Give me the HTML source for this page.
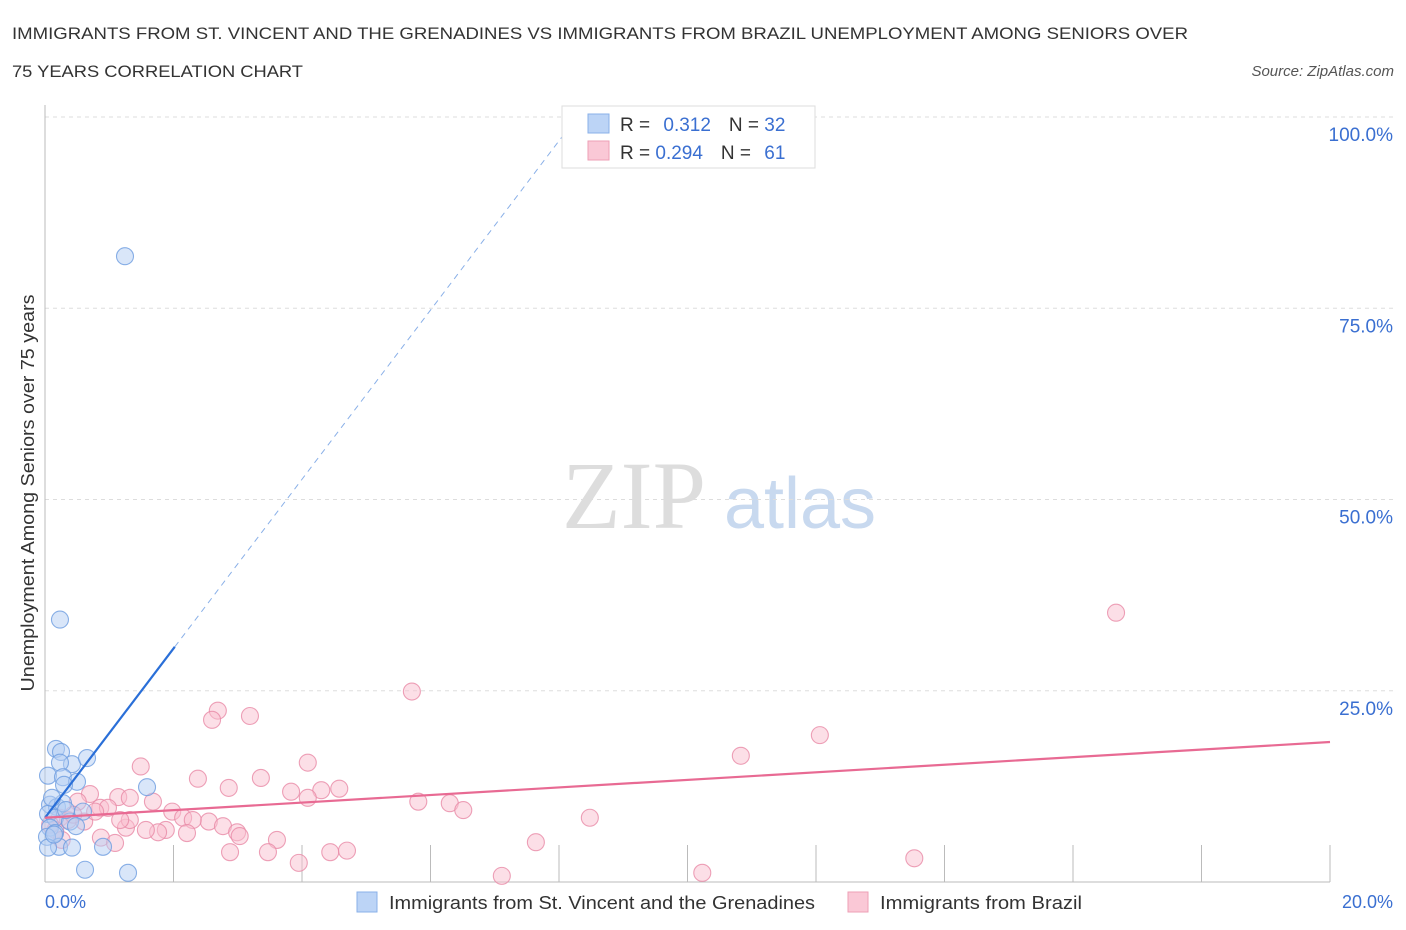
<!DOCTYPE html>
<html><head><meta charset="utf-8"><style>
body{margin:0;background:#fff;font-family:"Liberation Sans",sans-serif;}
svg{display:block}
</style></head><body>
<svg id="chart" width="1406" height="930" xmlns="http://www.w3.org/2000/svg">
<text x="12" y="39" font-size="17" fill="#333" textLength="1176" lengthAdjust="spacingAndGlyphs">IMMIGRANTS FROM ST. VINCENT AND THE GRENADINES VS IMMIGRANTS FROM BRAZIL UNEMPLOYMENT AMONG SENIORS OVER</text>
<text x="12" y="77" font-size="17" fill="#333" textLength="291" lengthAdjust="spacingAndGlyphs">75 YEARS CORRELATION CHART</text>
<text x="1394" y="76" font-size="15" fill="#555" font-style="italic" text-anchor="end">Source: ZipAtlas.com</text>
<text x="634" y="528" font-size="96" fill="#ddd" font-family="Liberation Serif,serif" text-anchor="middle">ZIP</text>
<text x="800" y="528" font-size="72" fill="#c8d9ef" text-anchor="middle">atlas</text>
<g id="grid"></g>
<g id="marks"></g>
<text transform="translate(34,493) rotate(-90)" font-size="18" fill="#333" text-anchor="middle" textLength="397" lengthAdjust="spacingAndGlyphs">Unemployment Among Seniors over 75 years</text>
<text x="45" y="908" font-size="18" fill="#3a6fd1" text-anchor="start">0.0%</text>
<text x="1393" y="908" font-size="18" fill="#3a6fd1" text-anchor="end">20.0%</text>
<g>
<rect x="562" y="106" width="253" height="62" fill="#fff" stroke="#ddd"/>
<rect x="588" y="114" width="21" height="19" fill="#bcd4f6" stroke="#8ab0e8"/>
<rect x="588" y="141" width="21" height="19" fill="#fac8d6" stroke="#ee9fb6"/>
<text x="620" y="131" font-size="19" fill="#333">R = <tspan fill="#3a6fd1" dx="8">0.312</tspan><tspan dx="18" fill="#333">N = </tspan><tspan fill="#3a6fd1">32</tspan></text>
<text x="620" y="159" font-size="19" fill="#333">R = <tspan fill="#3a6fd1">0.294</tspan><tspan dx="18" fill="#333">N = </tspan><tspan fill="#3a6fd1" dx="8">61</tspan></text>
</g>
<g>
<rect x="357" y="892" width="20" height="20" fill="#bcd4f6" stroke="#8ab0e8"/>
<text x="389" y="909" font-size="18" fill="#333" textLength="426" lengthAdjust="spacingAndGlyphs">Immigrants from St. Vincent and the Grenadines</text>
<rect x="848" y="892" width="20" height="20" fill="#fac8d6" stroke="#ee9fb6"/>
<text x="880" y="909" font-size="18" fill="#333" textLength="202" lengthAdjust="spacingAndGlyphs">Immigrants from Brazil</text>
</g>
</svg>
<script>
const yTicks=[25,50,75,100];
const yTickLabels=["25.0%","50.0%","75.0%","100.0%"];
const blueX=[1.245,0.233,0.171,0.249,0.420,0.654,0.233,0.047,0.280,0.498,0.296,1.588,0.078,0.187,0.280,0.591,0.047,0.156,0.389,0.482,0.078,0.156,0.031,0.218,0.420,0.047,0.903,0.623,1.292,0.140,0.327,0.109];
const blueY=[81.8,34.3,17.4,17.0,15.4,16.2,15.6,13.9,13.7,13.1,12.7,12.4,10.1,9.8,10.3,9.2,8.9,8.4,7.9,7.3,7.1,6.4,5.9,4.6,4.5,4.5,4.6,1.6,1.2,6.2,9.4,11.0];
const pinkX=[16.67,5.71,2.69,2.60,3.19,12.06,10.83,4.09,1.49,3.36,2.38,2.86,4.58,4.30,3.83,1.14,1.32,0.70,1.68,4.09,5.81,6.30,6.51,0.86,0.98,0.51,1.98,2.15,2.55,2.30,2.77,2.99,3.03,1.26,1.88,1.76,1.57,2.21,3.61,0.87,7.64,8.48,1.32,0.23,0.36,0.16,0.08,0.26,2.88,3.47,4.44,4.70,3.95,13.53,7.11,10.23,1.09,0.61,0.78,0.44,1.17];
const pinkY=[35.2,24.9,22.4,21.2,21.7,19.2,16.5,15.6,15.1,13.6,13.5,12.3,12.2,12.0,11.8,11.1,11.0,11.5,10.5,11.0,10.5,10.3,9.4,9.7,9.7,10.5,9.2,8.4,7.9,8.1,7.3,6.5,6.0,7.1,6.8,6.5,6.8,6.4,5.5,5.8,5.2,8.4,8.1,8.4,8.1,6.8,7.5,5.5,3.9,3.9,3.9,4.1,2.5,3.1,0.8,1.2,5.1,7.9,9.2,8.8,8.1];
const blueTrend=[8.4,11.06];
const pinkTrend=[8.4,0.495];
const ns="http://www.w3.org/2000/svg";
const X0=45,X1=1330,Y0=882,Y1=117;
function sx(v){return X0+(X1-X0)*v/20;}
function sy(v){return Y0-(Y0-Y1)*v/100;}
function mk(tag,attrs,parent){const e=document.createElementNS(ns,tag);for(const k in attrs)e.setAttribute(k,attrs[k]);parent.appendChild(e);return e;}
const grid=document.getElementById('grid'),marks=document.getElementById('marks');
yTicks.forEach((t,i)=>{
 const l=mk('line',{x1:X0,x2:1394,y1:sy(t),y2:sy(t),stroke:'#ddd','stroke-dasharray':'4,4'},grid);
 
 
 const tx=mk('text',{x:1393,y:sy(t)+24,'font-size':19,fill:'#3a6fd1','text-anchor':'end'},grid);
 tx.textContent=yTickLabels[i];
 
 
});
const ax=mk('line',{x1:X0,x2:X0,y1:105,y2:Y0,stroke:'#bbb'},grid);


const bx=mk('line',{x1:X0,x2:X1,y1:Y0,y2:Y0,stroke:'#bbb'},grid);


for(let i=1;i<=10;i++){
 const t=mk('line',{x1:sx(i*2),x2:sx(i*2),y1:845,y2:Y0,stroke:'#bbb'},grid);
 
 
}
function dots(xs,ys,fill,stroke,name){
 xs.forEach((x,i)=>{
  const c=mk('circle',{cx:sx(x),cy:sy(ys[i]),r:8.5,fill:fill,'fill-opacity':0.5,stroke:stroke,'stroke-width':1.1,'stroke-opacity':0.8},marks);
  
  
 });
}
dots(pinkX,pinkY,'#f9c0d0','#e88aa6','point-brazil');
dots(blueX,blueY,'#b3cdf3','#6d9ce0','point-st-vincent');
const bxEnd=(100-blueTrend[0])/blueTrend[1];
const bd=mk('line',{x1:sx(2.02),y1:sy(blueTrend[0]+blueTrend[1]*2.02),x2:sx(bxEnd),y2:sy(100),stroke:'#8ab0e8','stroke-width':1,'stroke-dasharray':'6,5'},marks);


const bs=mk('line',{x1:sx(0),y1:sy(blueTrend[0]),x2:sx(2.02),y2:sy(blueTrend[0]+blueTrend[1]*2.02),stroke:'#2a6fd8','stroke-width':2.2},marks);


const ps=mk('line',{x1:sx(0),y1:sy(pinkTrend[0]),x2:sx(20),y2:sy(pinkTrend[0]+pinkTrend[1]*20),stroke:'#e86a93','stroke-width':2.2},marks);


</script>
</body></html>
